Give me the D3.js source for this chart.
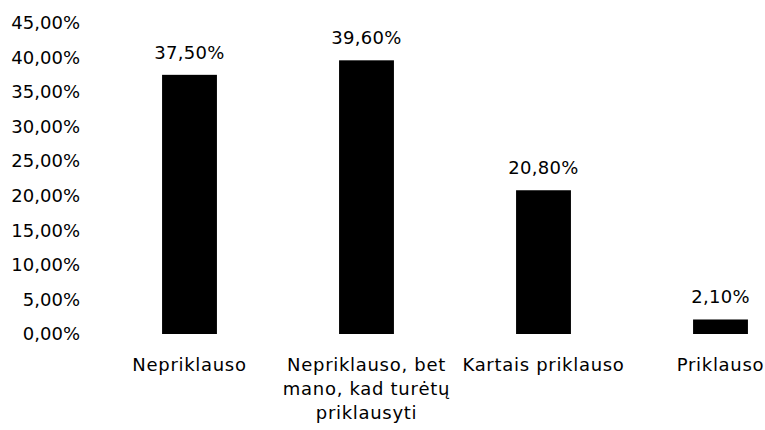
<!DOCTYPE html>
<html>
<head>
<meta charset="utf-8">
<script src="https://cdn.jsdelivr.net/npm/d3@7"></script>
<style>
  html, body { margin: 0; padding: 0; background: #fff; }
  svg { display: block; }
  text { font-family: "DejaVu Sans", Verdana, sans-serif; fill: #000; }
</style>
</head>
<body>
<svg id="chart" width="765" height="430"></svg>
<script>
// Survey answers and their shares (%)
const categories = [
  "Nepriklauso",
  "Nepriklauso, bet mano, kad turėtų priklausyti",
  "Kartais priklauso",
  "Priklauso"
];
const values = [37.5, 39.6, 20.8, 2.1];
const yTicks = [0, 5, 10, 15, 20, 25, 30, 35, 40, 45];

const ltLocale = d3.formatLocale({ decimal: ",", thousands: " ", grouping: [3], currency: ["", " €"] });
const pct = v => ltLocale.format(".2f")(v) + "%";

const svg = d3.select("#chart");
const fontSize = 18;

const x = d3.scaleBand()
  .domain(categories)
  .range([101, 809])
  .paddingInner(0.69)
  .paddingOuter(0.345);

const y = d3.scaleLinear()
  .domain([0, 45])
  .range([334, 23]);

// Value axis: labels only, no line or ticks
const yAxis = svg.append("g")
  .attr("transform", "translate(80,0)")
  .call(d3.axisLeft(y).tickValues(yTicks).tickFormat(pct).tickSize(0).tickPadding(0));
yAxis.select(".domain").remove();
yAxis.selectAll("text")
  .attr("font-size", fontSize)
  .attr("font-family", "DejaVu Sans")
  .attr("fill", "#000");

// Bars
svg.append("g")
  .selectAll("rect")
  .data(values)
  .join("rect")
  .attr("x", (d, i) => x(categories[i]))
  .attr("width", x.bandwidth())
  .attr("y", d => y(d))
  .attr("height", d => y(0) - y(d))
  .attr("fill", "#000");

// Value labels above bars
svg.append("g")
  .selectAll("text")
  .data(values)
  .join("text")
  .attr("x", (d, i) => x(categories[i]) + x.bandwidth() / 2)
  .attr("y", d => y(d) - 16)
  .attr("text-anchor", "middle")
  .attr("font-size", fontSize)
  .attr("letter-spacing", "0.3px")
  .text(d => pct(d));

// Category axis with wrapped labels
const xAxis = svg.append("g")
  .attr("transform", `translate(0,${y(0)})`)
  .call(d3.axisBottom(x).tickSize(0).tickPadding(24));
xAxis.select(".domain").remove();
xAxis.selectAll("text")
  .attr("font-size", fontSize)
  .attr("font-family", "DejaVu Sans")
  .attr("letter-spacing", "0.7px")
  .attr("fill", "#000")
  .call(wrap, x.step() * 0.97);

function wrap(sel, width) {
  sel.each(function () {
    const text = d3.select(this);
    const words = text.text().split(/\s+/);
    const yAttr = text.attr("y");
    const dy = parseFloat(text.attr("dy"));
    text.text(null);
    let line = [];
    let lineNo = 0;
    let tspan = text.append("tspan").attr("x", 0).attr("y", yAttr).attr("dy", dy + "em");
    for (const w of words) {
      line.push(w);
      tspan.text(line.join(" "));
      if (tspan.node().getComputedTextLength() > width && line.length > 1) {
        line.pop();
        tspan.text(line.join(" "));
        line = [w];
        lineNo++;
        tspan = text.append("tspan")
          .attr("x", 0)
          .attr("y", yAttr)
          .attr("dy", (dy * fontSize + lineNo * 24) + "px")
          .text(w);
      }
    }
  });
}
</script>
</body>
</html>
